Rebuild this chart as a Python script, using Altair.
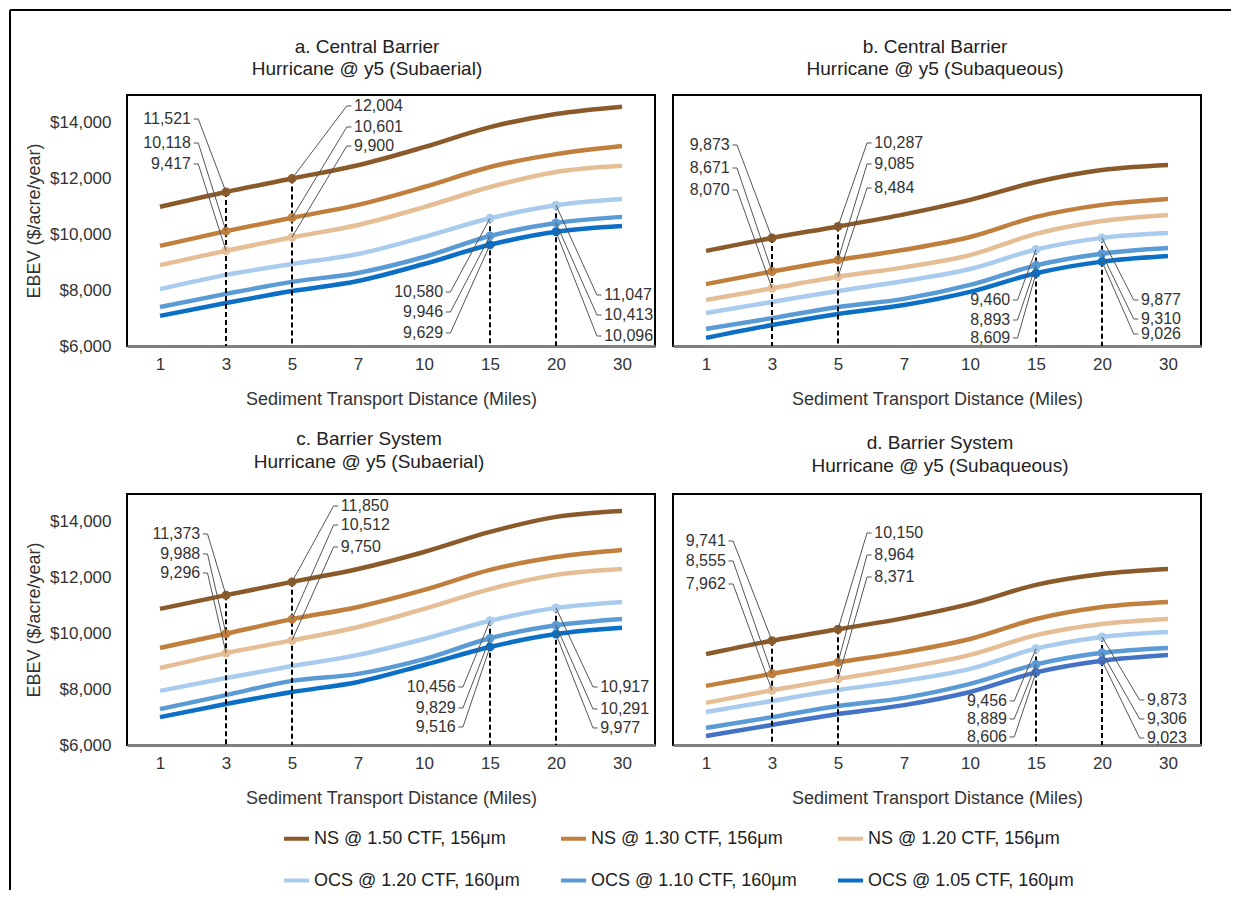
import altair as alt
import pandas as pd

FONT = "Liberation Sans"

# ---------------- data ----------------
distances = ["1", "3", "5", "7", "10", "15", "20", "30"]
series = ["NS @ 1.50 CTF, 156μm", "NS @ 1.30 CTF, 156μm", "NS @ 1.20 CTF, 156μm",
          "OCS @ 1.20 CTF, 160μm", "OCS @ 1.10 CTF, 160μm", "OCS @ 1.05 CTF, 160μm"]
colors = ["#8B5A2B", "#C17F3E", "#E6BE96", "#A9CCEE", "#5B9BD5", "#0B6FC6"]

panel_titles = {
    "a": ["a. Central Barrier", "Hurricane @ y5 (Subaerial)"],
    "b": ["b. Central Barrier", "Hurricane @ y5 (Subaqueous)"],
    "c": ["c. Barrier System", "Hurricane @ y5 (Subaerial)"],
    "d": ["d. Barrier System", "Hurricane @ y5 (Subaqueous)"],
}

a_ns150 = [10990, 11521, 12004, 12480, 13130, 13850, 14320, 14580]
a_ns130 = [9590, 10118, 10601, 11060, 11700, 12420, 12880, 13170]
a_ns120 = [8900, 9417, 9900, 10340, 10980, 11700, 12240, 12460]
a_ocs120 = [8040, 8550, 8940, 9300, 9910, 10580, 11047, 11270]
a_ocs110 = [7400, 7870, 8300, 8620, 9190, 9946, 10413, 10630]
a_ocs105 = [7080, 7540, 7970, 8330, 8940, 9629, 10096, 10300]

b_ns150 = [9410, 9873, 10287, 10720, 11240, 11880, 12310, 12490]
b_ns130 = [8220, 8671, 9085, 9450, 9910, 10630, 11060, 11270]
b_ns120 = [7650, 8070, 8484, 8820, 9260, 10020, 10480, 10700]
b_ocs120 = [7180, 7580, 7970, 8330, 8760, 9460, 9877, 10050]
b_ocs110 = [6610, 7000, 7400, 7690, 8190, 8893, 9310, 9510]
b_ocs105 = [6290, 6750, 7150, 7470, 7940, 8609, 9026, 9230]

c_ns150 = [10880, 11373, 11850, 12310, 12920, 13640, 14180, 14390]
c_ns130 = [9480, 9988, 10512, 10950, 11560, 12280, 12740, 12990]
c_ns120 = [8760, 9296, 9750, 10230, 10880, 11590, 12100, 12310]
c_ocs120 = [7940, 8400, 8830, 9230, 9800, 10456, 10917, 11130]
c_ocs110 = [7290, 7790, 8300, 8550, 9080, 9829, 10291, 10520]
c_ocs105 = [7000, 7470, 7900, 8260, 8870, 9516, 9977, 10200]

d_ns150 = [9260, 9741, 10150, 10550, 11060, 11740, 12130, 12310]
d_ns130 = [8120, 8555, 8964, 9330, 9800, 10520, 10950, 11130]
d_ns120 = [7510, 7962, 8371, 8760, 9230, 9940, 10340, 10520]
d_ocs120 = [7180, 7580, 7970, 8300, 8730, 9456, 9873, 10050]
d_ocs110 = [6610, 7000, 7400, 7690, 8190, 8889, 9306, 9480]
d_ocs105 = [6320, 6720, 7110, 7430, 7900, 8606, 9023, 9230]

panel_values = {
    "a": [a_ns150, a_ns130, a_ns120, a_ocs120, a_ocs110, a_ocs105],
    "b": [b_ns150, b_ns130, b_ns120, b_ocs120, b_ocs110, b_ocs105],
    "c": [c_ns150, c_ns130, c_ns120, c_ocs120, c_ocs110, c_ocs105],
    "d": [d_ns150, d_ns130, d_ns120, d_ocs120, d_ocs110, d_ocs105],
}

# which series are called out at which distance
annot_groups = {"3": series[:3], "5": series[:3], "15": series[3:], "20": series[3:]}

y_domain = [6000, 15000]
y_ticks = [6000, 8000, 10000, 12000, 14000]

# ---------------- layout (not data) ----------------
# annotation label blocks: offset in x-steps, label rows in $ units
label_pos = {
    "a": {"3": (-0.53, [14139, 13279, 12526]), "5": (0.94, [14606, 13853, 13171]),
          "15": (-0.71, [7936, 7219, 6466]), "20": (0.73, [7829, 7112, 6359])},
    "b": {"3": (-0.64, [13207, 12382, 11594]), "5": (0.55, [13279, 12526, 11665]),
          "15": (-0.39, [7649, 6932, 6287]), "20": (0.59, [7649, 6968, 6430])},
    "c": {"3": (-0.39, [13566, 12849, 12167]), "5": (0.74, [14570, 13888, 13100]),
          "15": (-0.52, [8080, 7327, 6645]), "20": (0.67, [8080, 7291, 6610])},
    "d": {"3": (-0.70, [13315, 12598, 11773]), "5": (0.55, [13602, 12813, 12024]),
          "15": (-0.44, [7578, 6932, 6287]), "20": (0.68, [7614, 6932, 6251])},
}
# panel title placement (pixels relative to the plot box): x centre, y of line 1, y of line 2
title_pos = {"a": (240, -48, -26), "b": (262, -48, -26), "c": (242, -55, -32), "d": (267, -51, -28)}
color_override = {"d": {series[5]: "#4472C4"}}

label_expr = "[" + ",".join(repr(d) for d in distances) + "][datum.value]"
color_scale = alt.Scale(domain=series, range=colors)
legend = alt.Legend(orient="none", legendX=155, legendY=729, columns=3, direction="horizontal",
                    title=None, symbolType="stroke", symbolStrokeWidth=4, symbolSize=625,
                    labelFontSize=18, labelFont=FONT, labelColor="#222", labelOffset=3,
                    labelLimit=400, columnPadding=33, rowPadding=18, padding=0)


def panel(key, show_y, with_frame=False):
    vals = dict(zip(series, panel_values[key]))
    over = color_override.get(key, {})
    line_rows, pt_rows, rule_rows, lab_rows, lead_rows = [], [], [], [], []
    for s in series:
        for i, v in enumerate(vals[s]):
            line_rows.append({"xi": i, "v": v, "s": s})
    for d, group in annot_groups.items():
        i = distances.index(d)
        dx, lys = label_pos[key][d]
        side = "r" if dx < 0 else "l"
        sgn = 1 if dx < 0 else -1
        rule_rows.append({"xi": i, "v": max(vals[s][i] for s in group)})
        for k, s in enumerate(group):
            v = vals[s][i]
            pt_rows.append({"xi": i, "v": v, "s": s})
            lx = i + dx
            lab_rows.append({"xi": lx, "v": lys[k], "t": v, "side": side})
            lid = f"{d}-{k}"
            lead_rows += [{"lid": lid, "ord": 0, "xi": lx + sgn * 0.04, "v": lys[k]},
                          {"lid": lid, "ord": 1, "xi": lx + sgn * 0.11, "v": lys[k]},
                          {"lid": lid, "ord": 2, "xi": i, "v": v}]
    ldf = pd.DataFrame(line_rows)
    pdf = pd.DataFrame(pt_rows)
    rdf = pd.DataFrame(rule_rows)
    labdf = pd.DataFrame(lab_rows)
    leaddf = pd.DataFrame(lead_rows)

    x_enc = alt.X("xi:Q", scale=alt.Scale(domain=[-0.5, 7.5], nice=False, zero=False),
                  axis=alt.Axis(values=list(range(len(distances))), labelExpr=label_expr,
                                title="Sediment Transport Distance (Miles)", grid=False,
                                ticks=False, domainColor="#7f7f7f", domainWidth=3,
                                labelPadding=10, titlePadding=18))
    if show_y:
        y_enc = alt.Y("v:Q", scale=alt.Scale(domain=y_domain, nice=False, zero=False),
                      axis=alt.Axis(values=y_ticks, format="$,.0f", title="EBEV ($/acre/year)",
                                    domain=False, ticks=False, grid=False,
                                    labelPadding=16, titlePadding=6))
    else:
        y_enc = alt.Y("v:Q", scale=alt.Scale(domain=y_domain, nice=False, zero=False), axis=None)
    col = alt.Color("s:N", scale=color_scale, legend=legend)

    main_l = ldf[~ldf["s"].isin(list(over))]
    main_p = pdf[~pdf["s"].isin(list(over))]
    layers = [alt.Chart(main_l).mark_line(interpolate="monotone", strokeWidth=4.5)
              .encode(x=x_enc, y=y_enc, color=col)]
    for s, c in over.items():
        layers.append(alt.Chart(ldf[ldf["s"] == s]).mark_line(interpolate="monotone", strokeWidth=4.5, color=c)
                      .encode(x=x_enc, y=y_enc))
    layers.append(alt.Chart(rdf).mark_rule(color="black", strokeWidth=2, strokeDash=[5, 3])
                  .encode(x=x_enc, y=y_enc, y2=alt.Y2Datum(y_domain[0])))
    layers.append(alt.Chart(main_p).mark_circle(size=80, opacity=1).encode(x=x_enc, y=y_enc, color=col))
    for s, c in over.items():
        layers.append(alt.Chart(pdf[pdf["s"] == s]).mark_circle(size=80, opacity=1, color=c)
                      .encode(x=x_enc, y=y_enc))
    layers.append(alt.Chart(leaddf).mark_line(color="#555555", strokeWidth=1)
                  .encode(x=x_enc, y=y_enc, detail="lid:N", order="ord:Q"))
    layers.append(alt.Chart(labdf[labdf["side"] == "r"])
                  .mark_text(align="right", baseline="middle", fontSize=16, font=FONT, color="#333333")
                  .encode(x=x_enc, y=y_enc, text=alt.Text("t:Q", format=",")))
    layers.append(alt.Chart(labdf[labdf["side"] == "l"])
                  .mark_text(align="left", baseline="middle", fontSize=16, font=FONT, color="#333333")
                  .encode(x=x_enc, y=y_enc, text=alt.Text("t:Q", format=",")))

    # panel title (two lines)
    tx, ty1, ty2 = title_pos[key]
    tdf = pd.DataFrame({"f": [0]})
    for line, ty in zip(panel_titles[key], (ty1, ty2)):
        layers.append(alt.Chart(tdf).mark_text(align="center", baseline="middle", fontSize=19,
                                               font=FONT, color="#222222")
                      .encode(x=alt.value(tx), y=alt.value(ty), text=alt.value(line)))
    if with_frame:
        layers.append(alt.Chart(tdf).mark_rule(color="black", strokeWidth=2)
                      .encode(x=alt.value(-117), y=alt.value(-85), y2=alt.value(795)))
        layers.append(alt.Chart(tdf).mark_rule(color="black", strokeWidth=2)
                      .encode(x=alt.value(-117), x2=alt.value(1104), y=alt.value(-85)))

    return alt.layer(*layers).properties(width=528, height=251)


pa = panel("a", True, with_frame=True)
pb = panel("b", False)
pc = panel("c", True)
pd_ = panel("d", False)

chart = alt.concat(pa, pb, pc, pd_, columns=2).properties(
    spacing={"row": 148, "column": 18}, bounds="flush", padding=0, background="white"
).resolve_scale(color="shared").configure_view(
    stroke="black", strokeWidth=2
).configure_axis(
    labelFont=FONT, titleFont=FONT, labelColor="#333333", titleColor="#333333",
    titleFontWeight="normal", labelFontSize=17, titleFontSize=18
)

chart.save("out.html", embed_options={"renderer": "svg", "actions": False})
